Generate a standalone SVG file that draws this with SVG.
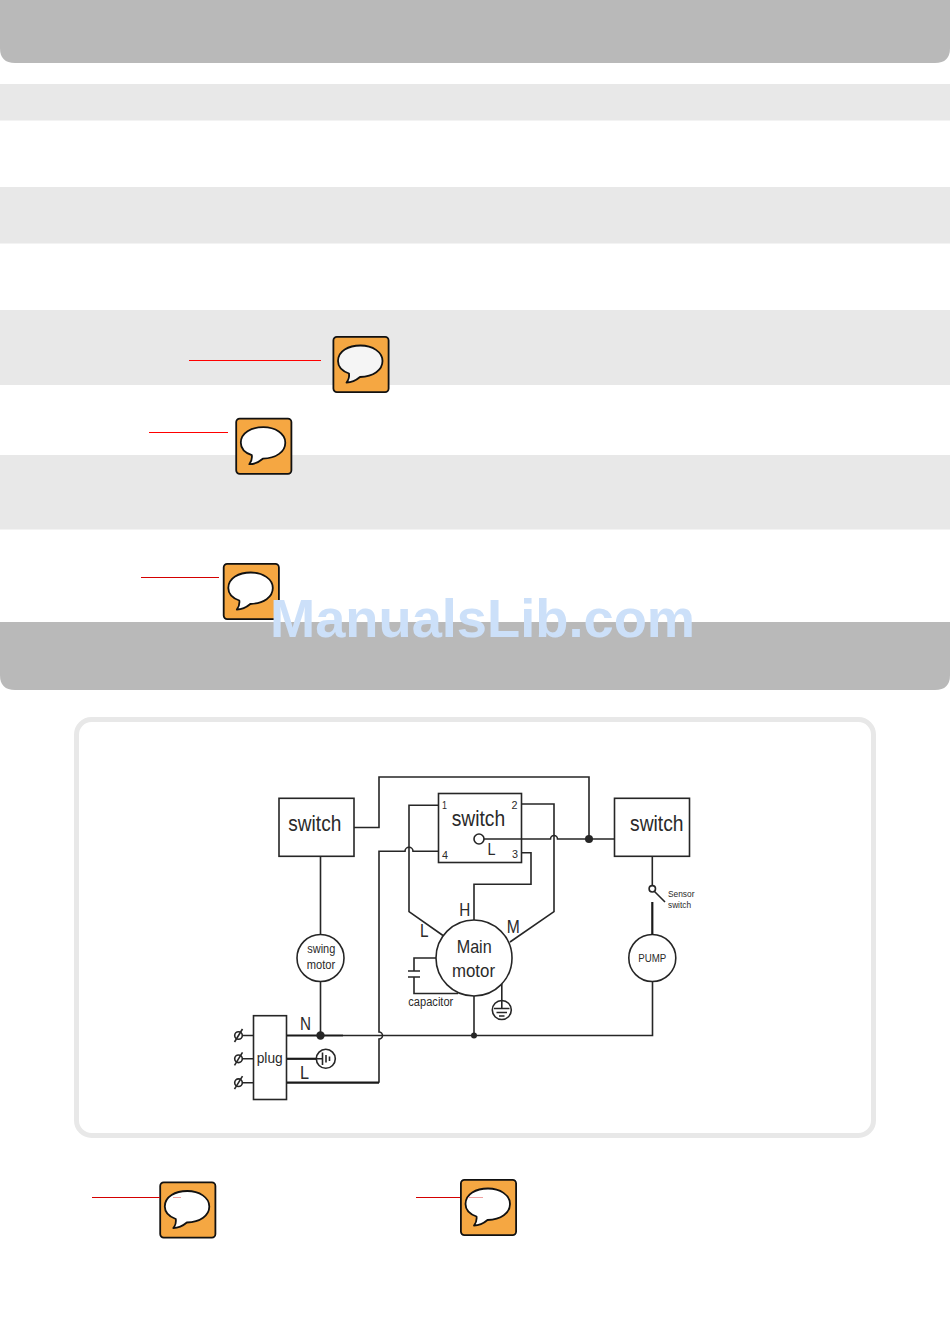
<svg xmlns="http://www.w3.org/2000/svg" width="950" height="1344" viewBox="0 0 950 1344">
<style>
.band{fill:#e8e8e8}
.head{fill:#b9b9b9}
.red{stroke:#f00;stroke-width:1;fill:none}
.dred{stroke:#d40000;stroke-width:1;fill:none}
.faint{stroke:#f0a0a0;stroke-width:1;fill:none}
.w{stroke:#262626;stroke-width:1.6;fill:none}
.tw{stroke:#1a1a1a;stroke-width:2.2;fill:none}
.box{stroke:#262626;stroke-width:1.6;fill:#fff}
.dot{fill:#262626}
text{font-family:"Liberation Sans",Arial,sans-serif;fill:#2a2a2a}
.ib{fill:#f5a742;stroke:#111;stroke-width:1.8}
.bu{fill:#fff;stroke:#111;stroke-width:1.8;stroke-linejoin:round}
</style>
<defs>
<rect id="tile" class="ib" x="0.9" y="0.9" width="55.200" height="55.200" rx="3.500"/>
<path id="bubble" d="M16.500 37.500C8 34.500 5.500 29.500 5.500 25C5.500 15 16 9.500 28 9.500C40 9.500 50 16 50 25C50 34 41 40.500 27.500 41C24 44 20 46.500 14 46.500C16 44 17 41 16.500 37.500Z"/>
</defs>
<rect width="950" height="1344" fill="#fff"/>
<g id="bands">
<path class="head" d="M0 0H950V48Q950 63 935 63H15Q0 63 0 48Z"/>
<rect class="band" y="84" width="950" height="36.500"/>
<rect class="band" y="187" width="950" height="56.500"/>
<rect class="band" y="310" width="950" height="75"/>
<rect class="band" y="455" width="950" height="74.500"/>
<path class="head" d="M0 622H950V675Q950 690 935 690H15Q0 690 0 675Z"/>
</g>
<rect id="frame" x="76.500" y="719.500" width="797" height="416" rx="15" fill="#fff" stroke="#e8e8e8" stroke-width="5"/>
<g id="callout-lines">
<path class="red" d="M189 360.500H321"/>
<path class="red" d="M149 432.500H228"/>
<path class="dred" d="M141 577.500H219"/>
</g>
<g id="icon-1"><use href="#tile" x="332.500" y="336"/><use href="#bubble" class="bu" style="fill:#f5f5f5" x="332.500" y="336"/></g>
<g id="icon-2"><use href="#tile" x="235.300" y="417.700"/><use href="#bubble" class="bu" x="235.300" y="417.700"/></g>
<g id="icon-3"><use href="#tile" x="222.800" y="563"/><use href="#bubble" class="bu" x="222.800" y="563"/></g>
<g id="icon-4"><use href="#tile" x="159.300" y="1181.500"/><use href="#bubble" class="bu" x="159.300" y="1181.500"/></g>
<g id="icon-5"><use href="#tile" x="460" y="1179"/><use href="#bubble" class="bu" x="460" y="1179"/></g>
<g id="callout-lines-lower">
<path class="dred" d="M92 1197.500H160"/><path class="faint" d="M173 1197.500H181"/>
<path class="dred" d="M416 1197.500H460"/><path class="faint" d="M468 1197.500H483"/>
</g>
<g id="switch-left"><rect class="box" x="279" y="798.300" width="75" height="58"/><text x="288.300" y="831" font-size="22" textLength="53" lengthAdjust="spacingAndGlyphs">switch</text></g>
<g id="switch-center"><rect class="box" x="438.500" y="793.500" width="83" height="69"/>
<text x="451.700" y="825.700" font-size="22" textLength="53.500" lengthAdjust="spacingAndGlyphs">switch</text>
<text x="442" y="809.300" font-size="11" textLength="5" lengthAdjust="spacingAndGlyphs">1</text><text x="511.500" y="809.300" font-size="11" textLength="6" lengthAdjust="spacingAndGlyphs">2</text><text x="512" y="857.700" font-size="11" textLength="6" lengthAdjust="spacingAndGlyphs">3</text><text x="442" y="859" font-size="11" textLength="6" lengthAdjust="spacingAndGlyphs">4</text>
<circle cx="479" cy="839" r="5" fill="#fff" stroke="#262626" stroke-width="1.600"/>
<text x="487.500" y="854.700" font-size="16" textLength="8" lengthAdjust="spacingAndGlyphs">L</text></g>
<g id="switch-right"><rect class="box" x="614.500" y="798.300" width="75" height="58"/><text x="630" y="830.700" font-size="22" textLength="53.500" lengthAdjust="spacingAndGlyphs">switch</text></g>
<g id="swing-motor"><circle class="box" cx="320.500" cy="958" r="23.500"/><text x="307.300" y="953" font-size="12.500" textLength="28" lengthAdjust="spacingAndGlyphs">swing</text><text x="306.700" y="968.500" font-size="12.500" textLength="28.500" lengthAdjust="spacingAndGlyphs">motor</text></g>
<g id="main-motor"><circle class="box" cx="474" cy="958" r="38"/><text x="456.700" y="953.300" font-size="18.500" textLength="35" lengthAdjust="spacingAndGlyphs">Main</text><text x="452" y="976.700" font-size="18.500" textLength="43" lengthAdjust="spacingAndGlyphs">motor</text>
<text x="459.300" y="916" font-size="17.500" textLength="11" lengthAdjust="spacingAndGlyphs">H</text><text x="420" y="937" font-size="17.500" textLength="8.500" lengthAdjust="spacingAndGlyphs">L</text><text x="506.700" y="933" font-size="17.500" textLength="13" lengthAdjust="spacingAndGlyphs">M</text></g>
<g id="capacitor"><text x="408.300" y="1005.700" font-size="12.500" textLength="45" lengthAdjust="spacingAndGlyphs">capacitor</text></g>
<g id="motor-ground"><circle cx="501.800" cy="1010" r="9.500" fill="#fff" stroke="#262626" stroke-width="1.600"/><path class="w" d="M501.800 1000V1008M494 1008.500H509.500M496.500 1012.500H507M499 1016H504.500"/></g>
<g id="pump"><circle class="box" cx="652.300" cy="958" r="23.500"/><text x="638.300" y="962" font-size="11.500" textLength="28" lengthAdjust="spacingAndGlyphs">PUMP</text></g>
<g id="sensor-switch"><circle cx="652.300" cy="888.800" r="3.200" fill="#fff" stroke="#262626" stroke-width="1.600"/><text x="668" y="897" font-size="9" textLength="26.500" lengthAdjust="spacingAndGlyphs">Sensor</text><text x="668" y="907.700" font-size="9" textLength="23" lengthAdjust="spacingAndGlyphs">switch</text></g>
<g id="plug"><rect class="box" x="253.500" y="1015.700" width="33" height="83.800"/><text x="256.700" y="1063" font-size="15" textLength="26" lengthAdjust="spacingAndGlyphs">plug</text>
<text x="300" y="1030" font-size="17.500" textLength="11" lengthAdjust="spacingAndGlyphs">N</text><text x="300" y="1079" font-size="17.500" textLength="9" lengthAdjust="spacingAndGlyphs">L</text></g>
<g id="terminals" fill="#fff" stroke="#262626" stroke-width="1.600">
<circle cx="238.500" cy="1035.500" r="3.800"/><path d="M234.500 1042L242.500 1029"/>
<circle cx="238.500" cy="1058.800" r="3.800"/><path d="M234.500 1065.300L242.500 1052.300"/>
<circle cx="238.500" cy="1082.700" r="3.800"/><path d="M234.500 1089.200L242.500 1076.200"/>
</g>
<g id="plug-ground"><circle cx="325.800" cy="1058.800" r="9.500" fill="#fff" stroke="#262626" stroke-width="1.600"/><path class="w" d="M316.300 1058.800H322M322.500 1052.500V1065M326 1055V1062.500M329.500 1056.500V1061"/></g>
<g id="connectors">
<path class="w" d="M354 827.500H379V777H589V839"/>
<path class="w" d="M320.500 856V934.500M320.500 981.500V1035"/>
<path class="w" d="M438.500 805.300H409V911.700L443 935.500"/>
<path class="w" d="M438.500 851.300H413A4 4 0 0 0 405 851.300H379V1032A3.500 3.500 0 0 1 379 1039V1082.700"/>
<path class="tw" d="M287 1082.700H379"/>
<path class="tw" d="M287 1035.500H343"/>
<path class="w" d="M343 1035.500H652.500V981.500"/>
<path class="tw" d="M287 1058.800H316"/>
<path class="w" d="M521.500 804H554V911.700L510 942"/>
<path class="w" d="M484 839H550.500A3.500 3.500 0 0 1 557.500 839H614.500"/>
<path class="w" d="M521.500 852.700H531V884.300H474V920"/>
<path class="w" d="M474 996V1035.500"/>
<path class="w" d="M436 958H414V971M414 977V993.500H458"/>
<path class="w" d="M408 971H420M408 977H420"/>
<path class="w" d="M501.800 984V1000"/>
<path class="w" d="M652.300 856V885.500"/>
<path class="tw" d="M652.300 902V934.500"/>
<path class="w" d="M654.500 891.500L665 902"/>
<path class="w" d="M242 1035.500H253.500M242 1058.800H253.500M242 1082.700H253.500"/>
<circle class="dot" cx="320.500" cy="1035.500" r="4.200"/>
<circle class="dot" cx="474" cy="1035.500" r="3"/>
<circle class="dot" cx="589" cy="839" r="4"/>
</g>
<text id="watermark" x="270" y="637" font-size="54" font-weight="700" style="fill:#cce0f9" textLength="425" lengthAdjust="spacingAndGlyphs">ManualsLib.com</text>
</svg>
